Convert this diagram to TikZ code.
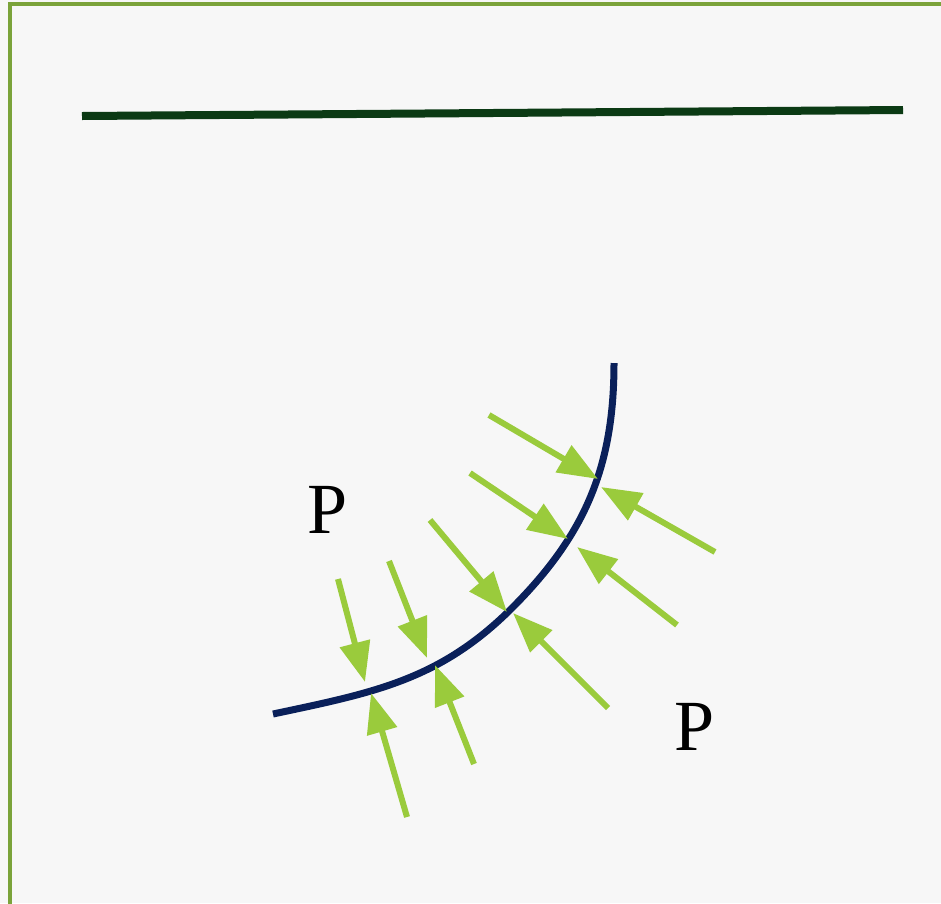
\documentclass[tikz,border=0pt]{standalone}
\usepackage{fontspec}
\usetikzlibrary{arrows.meta}

\newfontfamily\labelfont{Liberation Serif}
\definecolor{paperGray}{HTML}{F7F7F7}
\definecolor{frameGreen}{HTML}{7BA33A}
\definecolor{barGreen}{HTML}{0B3A14}
\definecolor{shellNavy}{HTML}{0A205A}
\definecolor{pressGreen}{HTML}{9ACB3C}

\begin{document}
\begin{tikzpicture}[
    x=1pt, y=-1pt,
    >={Triangle[length=40pt, width=30pt]},
    press_arrow/.style={->, line width=6pt, draw=pressGreen},
    shell_line/.style={line width=7pt, draw=shellNavy},
    p_label/.style={anchor=base, inner sep=0pt, font=\labelfont\fontsize{72}{72}\selectfont}
]
    \useasboundingbox (0,0) rectangle (941,903);
    \clip (0,0) rectangle (941,903);
    \fill[paperGray] (0,0) rectangle (941,903);
    \draw[frameGreen, line width=4pt] (10,3.5) rectangle (960,930); % frame runs off the page

    % flat bar on top
    \coordinate (BarLeft) at (82,116);
    \coordinate (BarRight) at (903,110);
    \draw[barGreen, line width=8pt] (BarLeft) -- (BarRight);

    % curved shell (angles in page directions)
    \coordinate (ArcStart) at (273,714);
    \coordinate (ArcMid) at (512,608);
    \coordinate (ArcEnd) at (614,363);
    \draw[shell_line] (ArcStart) to[out=12, in=-135] (ArcMid) to[out=45, in=-90] (ArcEnd);

    % pressure arrows, tail -> tip on the shell
    \foreach \i/\tx/\ty/\hx/\hy in {
        1/338/579/365/682, 2/389/561/427/658, 3/430/520/507/612,
        4/470/473/568/539, 5/489/415/598/479,
        6/407/817/371/693, 7/474/764/435/665, 8/608/708/513/613,
        9/677/625/577/547, 10/715/552/601/487}{
        \coordinate (tail\i) at (\tx,\ty);
        \coordinate (tip\i) at (\hx,\hy);
        \draw[press_arrow] (tail\i) -- (tip\i);
    }

    \node[p_label] (pIn) at (328,533) {P};
    \node[p_label] (pOut) at (695,750) {P};

\end{tikzpicture}
\end{document}
